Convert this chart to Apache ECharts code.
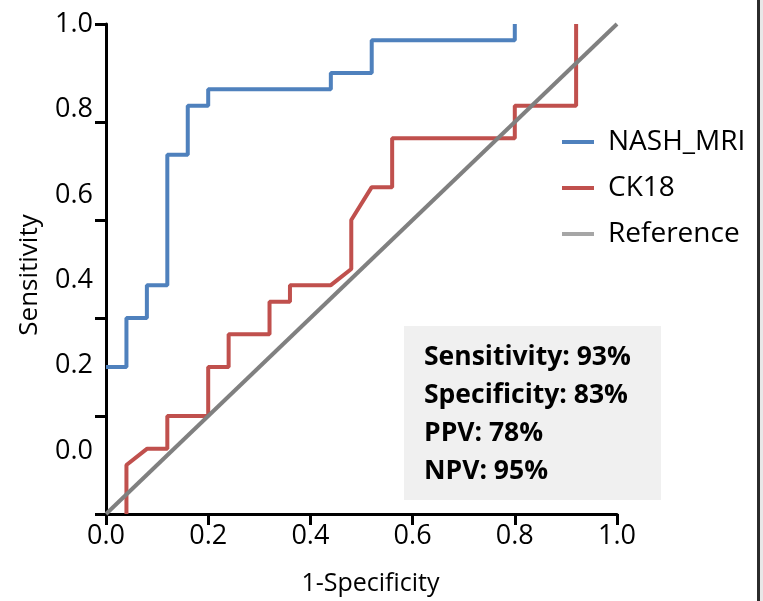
<!DOCTYPE html>
<html>
<head>
<meta charset="utf-8">
<script src="https://cdn.jsdelivr.net/npm/echarts@6/dist/echarts.min.js"></script>
<style>
  html, body { margin: 0; padding: 0; background: #fff; }
  #chart { width: 763px; height: 601px; }
</style>
</head>
<body>
<div id="chart"></div>
<script>
// ROC curves: false positive rate (1-Specificity) vs true positive rate (Sensitivity)
const nashX = [0, 0.04, 0.04, 0.08, 0.08, 0.12, 0.12, 0.16, 0.16, 0.20, 0.20, 0.44, 0.44, 0.52, 0.52, 0.80, 0.80];
const nashY = [0.300, 0.300, 0.400, 0.400, 0.467, 0.467, 0.733, 0.733, 0.833, 0.833, 0.867, 0.867, 0.900, 0.900, 0.967, 0.967, 1.000];

const ck18X = [0.04, 0.04, 0.08, 0.12, 0.12, 0.20, 0.20, 0.24, 0.24, 0.32, 0.32, 0.36, 0.36, 0.44, 0.48, 0.48, 0.52, 0.56, 0.56, 0.80, 0.80, 0.92, 0.92];
const ck18Y = [0, 0.100, 0.133, 0.133, 0.200, 0.200, 0.300, 0.300, 0.367, 0.367, 0.433, 0.433, 0.467, 0.467, 0.500, 0.600, 0.667, 0.667, 0.767, 0.767, 0.833, 0.833, 1.000];

const refX = [0, 1];
const refY = [0, 1];

const xTickValues = [0, 0.2, 0.4, 0.6, 0.8, 1.0];
const yTickLabels = [0, 0.2, 0.4, 0.6, 0.8, 1.0];

const seriesNames = ['NASH_MRI', 'CK18', 'Reference'];
const seriesColors = ['#4f81bd', '#c0504d', '#808080'];
const legendColors = ['#4f81bd', '#c0504d', '#a6a6a6'];

const statLines = ['Sensitivity: 93%', 'Specificity: 83%', 'PPV: 78%', 'NPV: 95%'];

const FONT = '"Open Sans", "Noto Sans", sans-serif';

function pairs(xs, ys) { return xs.map((x, i) => [x, ys[i]]); }

const chart = echarts.init(document.getElementById('chart'), null, { renderer: 'canvas' });

const axisLineStyle = { color: '#000', width: 3 };

const option = {
  animation: false,
  backgroundColor: '#fff',
  grid: { left: 106, top: 24, width: 511, height: 492, containLabel: false },
  xAxis: {
    type: 'value', min: 0, max: 1, interval: 0.2,
    name: '1-Specificity', nameLocation: 'middle', nameGap: 57,
    nameTextStyle: { fontSize: 25, fontFamily: FONT, color: '#000', padding: [0, 0, 0, 18] },
    axisLine: { show: true, lineStyle: axisLineStyle },
    axisTick: { show: true, length: 11, lineStyle: axisLineStyle, customValues: xTickValues },
    axisLabel: {
      fontSize: 27, fontFamily: FONT, color: '#000', margin: 9,
      customValues: xTickValues,
      formatter: v => v.toFixed(1)
    },
    splitLine: { show: false }
  },
  yAxis: [
    {
      type: 'value', min: 0, max: 1, interval: 0.2,
      name: 'Sensitivity', nameLocation: 'middle', nameGap: 63,
      nameTextStyle: { fontSize: 26, fontFamily: FONT, color: '#000', padding: [0, 12, 0, 0] },
      axisLine: { show: true, lineStyle: axisLineStyle },
      axisTick: { show: true, length: 11, lineStyle: axisLineStyle },
      axisLabel: { show: false },
      splitLine: { show: false }
    },
    {
      // label scale for the Sensitivity tick text
      type: 'value', min: -0.147, max: 1, position: 'left', offset: 0,
      axisLine: { show: false },
      axisTick: { show: false },
      splitLine: { show: false },
      axisLabel: {
        fontSize: 27, fontFamily: FONT, color: '#000', margin: 13,
        customValues: yTickLabels,
        formatter: v => v.toFixed(1)
      }
    }
  ],
  legend: {
    orient: 'vertical', left: 557, top: 121,
    itemWidth: 32, itemHeight: 4, itemGap: 14,
    textStyle: { fontSize: 28, fontFamily: FONT, color: '#000', lineHeight: 32, padding: [0, 0, 0, 9] },
    data: seriesNames.map((n, i) => ({ name: n, icon: 'rect', itemStyle: { color: legendColors[i] } }))
  },
  series: [
    { name: seriesNames[0], data: pairs(nashX, nashY) },
    { name: seriesNames[1], data: pairs(ck18X, ck18Y) },
    { name: seriesNames[2], data: pairs(refX, refY) }
  ].map((s, i) => Object.assign(s, {
    type: 'line', showSymbol: false, symbol: 'none', silent: true,
    itemStyle: { color: legendColors[i] },
    lineStyle: { color: seriesColors[i], width: 4 },
    z: 2 + i
  })),
  graphic: [
    { type: 'rect', shape: { x: 404, y: 326, width: 257, height: 174 }, style: { fill: '#f0f0f0' }, z: 0 },
    ...statLines.map((t, i) => ({
      type: 'text', x: 424, y: 357 + i * 38.3, z: 1,
      style: { text: t, fontSize: 26.5, fontWeight: 'bold', fontFamily: FONT, fill: '#000', verticalAlign: 'middle' }
    })),
    { type: 'rect', shape: { x: 757, y: 0, width: 3, height: 601 }, style: { fill: '#2b2b2b' }, z: 5 },
    { type: 'rect', shape: { x: 760, y: 0, width: 3, height: 601 }, style: { fill: '#e8e8e8' }, z: 5 }
  ]
};

chart.setOption(option);
</script>
</body>
</html>
